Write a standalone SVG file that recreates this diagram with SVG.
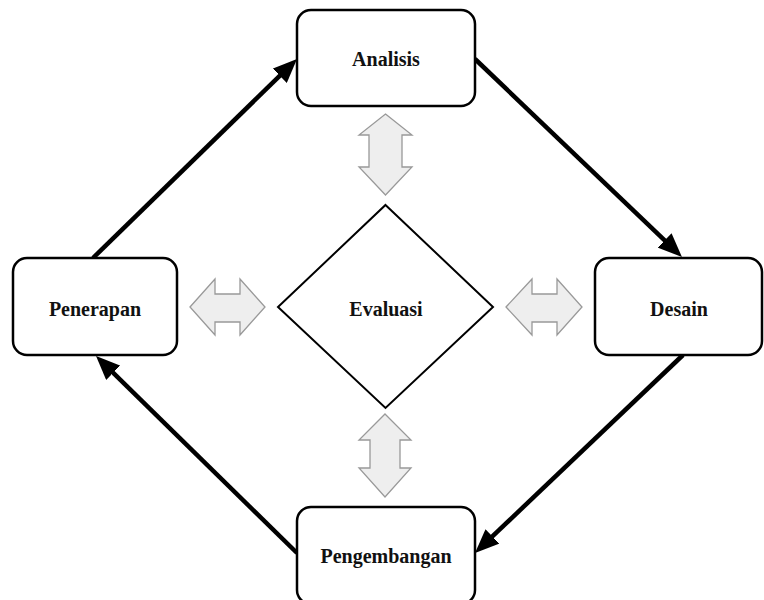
<svg xmlns="http://www.w3.org/2000/svg" width="764" height="600" viewBox="0 0 764 600">
<style>
.box{fill:#fff;stroke:#000;stroke-width:2.5}
.dia{fill:#fff;stroke:#000;stroke-width:2}
.lbl{font-family:"Liberation Serif",serif;font-weight:bold;font-size:20px;fill:#111;text-anchor:middle;dominant-baseline:central}
.conn{stroke:#000;stroke-width:4.5;fill:none;marker-end:url(#ah)}
.dbl{fill:#eeeeee;stroke:#999;stroke-width:1.3;stroke-linejoin:miter}
</style>
<defs>
<marker id="ah" markerUnits="userSpaceOnUse" markerWidth="24" markerHeight="20" refX="12" refY="10" orient="auto">
<path d="M0,0 L24,10 L0,20 z" fill="#000"/>
</marker>
</defs>
<rect width="764" height="600" fill="#fff"/>
<g id="connectors">
<path class="conn" d="M475,59 L673.3,248.7"/>
<path class="conn" d="M683,355 L483.7,544.7"/>
<path class="conn" d="M297,553 L104.6,364.4"/>
<path class="conn" d="M93,258 L288.4,67.4"/>
</g>
<g id="eval-links">
<polygon class="dbl" points="385.5,114 412,135 402,135 402,167 412,167 385.5,195 359,167 369,167 369,135 359,135"/>
<polygon class="dbl" points="385,414 411,440 400,440 400,468 411,468 385,497 359,468 370,468 370,440 359,440"/>
<polygon class="dbl" points="190,307 215,279 215,294 240,294 240,279 265,307 240,335 240,322 215,322 215,335"/>
<polygon class="dbl" points="506,307 532,279 532,294 557,294 557,279 582,307 557,335 557,322 532,322 532,335"/>
</g>
<g id="analisis">
<rect class="box" x="297" y="10" width="178" height="96" rx="14"/>
<text class="lbl" x="386" y="59">Analisis</text>
</g>
<g id="desain">
<rect class="box" x="595" y="258" width="167" height="97" rx="14"/>
<text class="lbl" x="679" y="309">Desain</text>
</g>
<g id="pengembangan">
<rect class="box" x="297" y="507" width="178" height="97" rx="14"/>
<text class="lbl" x="386" y="556">Pengembangan</text>
</g>
<g id="penerapan">
<rect class="box" x="13" y="258" width="164" height="97" rx="14"/>
<text class="lbl" x="95" y="309">Penerapan</text>
</g>
<g id="evaluasi">
<polygon class="dia" points="385.5,205 493,307 385.5,408 278,307"/>
<text class="lbl" x="386" y="309">Evaluasi</text>
</g>
</svg>
